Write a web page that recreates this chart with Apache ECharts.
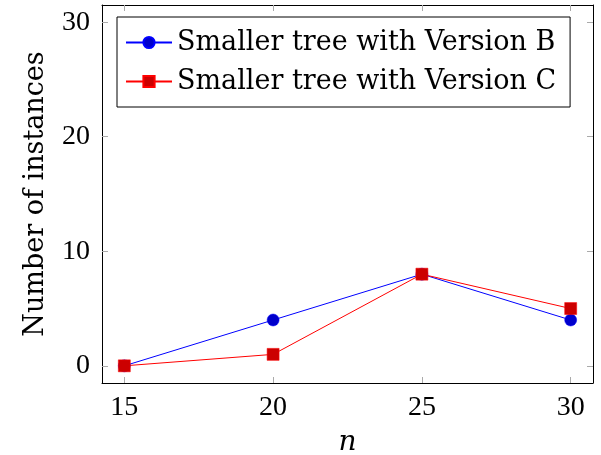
<!DOCTYPE html>
<html>
<head>
<meta charset="utf-8">
<script src="https://cdn.jsdelivr.net/npm/echarts@6/dist/echarts.min.js"></script>
<style>
html,body{margin:0;padding:0;background:#fff;}
#main{width:601px;height:455px;}
</style>
</head>
<body>
<div id="main"></div>
<script>
var nValues = [15, 20, 25, 30];
var versionB = [0, 4, 8, 4];
var versionC = [0, 1, 8, 5];
var xTicks = [15, 20, 25, 30];
var yTicks = [0, 10, 20, 30];

var chart = echarts.init(document.getElementById('main'));
var font = 'Liberation Serif';
var textFont = 'DejaVu Serif';
var tickStyle = {show: true, inside: true, length: 6, lineStyle: {color: '#aaa', width: 1}};

function pairs(xs, ys) {
    return xs.map(function (x, i) { return [x, ys[i]]; });
}

var option = {
    animation: false,
    grid: {left: 102, right: 8, top: 5, bottom: 72, outerBoundsMode: 'none', containLabel: false},
    legend: {
        left: 117, top: 17,
        orient: 'vertical',
        backgroundColor: '#fff',
        borderColor: '#000',
        borderWidth: 1,
        borderRadius: 0,
        padding: [12, 14, 12, 8],
        itemGap: 12,
        itemWidth: 46,
        itemHeight: 14,
        textStyle: {fontFamily: textFont, fontSize: 27, color: '#000'},
        data: ['Smaller tree with Version B', 'Smaller tree with Version C']
    },
    xAxis: [{
        type: 'value', min: 14.25, max: 30.75,
        name: 'n', nameLocation: 'middle', nameGap: 46,
        nameTextStyle: {fontFamily: textFont, fontSize: 28, fontStyle: 'italic', color: '#000'},
        axisLine: {show: true, onZero: false, lineStyle: {color: '#000', width: 1}},
        axisTick: Object.assign({customValues: xTicks}, tickStyle),
        axisLabel: {customValues: xTicks, fontFamily: font, fontSize: 28, color: '#000', margin: 11},
        splitLine: {show: false}
    }, {
        type: 'value', position: 'top', min: 14.25, max: 30.75,
        axisLine: {show: true, onZero: false, lineStyle: {color: '#000', width: 1}},
        axisTick: Object.assign({customValues: xTicks}, tickStyle),
        axisLabel: {show: false},
        splitLine: {show: false}
    }],
    yAxis: [{
        type: 'value', min: -1.5, max: 31.5,
        name: 'Number of instances', nameLocation: 'middle', nameGap: 53,
        nameTextStyle: {fontFamily: textFont, fontSize: 27, color: '#000'},
        axisLine: {show: true, onZero: false, lineStyle: {color: '#000', width: 1}},
        axisTick: Object.assign({customValues: yTicks}, tickStyle),
        axisLabel: {customValues: yTicks, fontFamily: font, fontSize: 28, color: '#000', margin: 12},
        splitLine: {show: false}
    }, {
        type: 'value', position: 'right', min: -1.5, max: 31.5,
        axisLine: {show: true, onZero: false, lineStyle: {color: '#000', width: 1}},
        axisTick: Object.assign({customValues: yTicks}, tickStyle),
        axisLabel: {show: false},
        splitLine: {show: false}
    }],
    series: [{
        name: 'Smaller tree with Version B',
        type: 'line',
        data: pairs(nValues, versionB),
        symbol: 'circle', symbolSize: 12,
        lineStyle: {color: '#0000ff', width: 1},
        itemStyle: {color: '#0000cc', borderColor: '#0000ff', borderWidth: 0.5}
    }, {
        name: 'Smaller tree with Version C',
        type: 'line',
        data: pairs(nValues, versionC),
        symbol: 'rect', symbolSize: 12,
        lineStyle: {color: '#ff0000', width: 1},
        itemStyle: {color: '#cc0000', borderColor: '#ff0000', borderWidth: 0.5}
    }]
};
chart.setOption(option);
</script>
</body>
</html>
